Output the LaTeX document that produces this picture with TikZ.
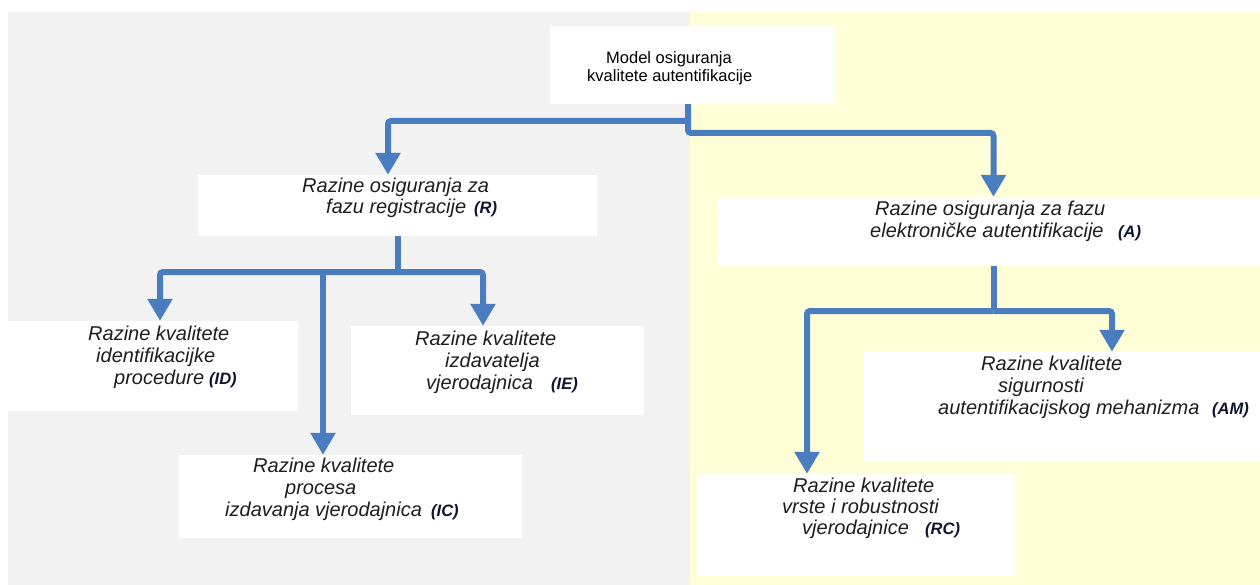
\documentclass[tikz,border=0pt]{standalone}
\usepackage{fontspec}
\setmainfont{Liberation Sans}
\usetikzlibrary{arrows.meta}
\definecolor{bggray}{HTML}{F2F2F2}
\definecolor{bgyellow}{HTML}{FFFFD7}
\definecolor{conncol}{HTML}{4A7CC0}
\definecolor{txtcol}{HTML}{1E1E1E}
\definecolor{labcol}{HTML}{10152E}
\begin{document}
\begin{tikzpicture}[x=1pt,y=-1pt,
  box/.style={fill=white, draw=none, inner sep=0pt, anchor=center},
  ln/.style={anchor=base west, inner sep=0pt, text=txtcol, font=\fontsize{20}{22}\selectfont\itshape},
  lab/.style={anchor=base west, inner sep=0pt, text=labcol, font=\fontsize{16.5}{18}\selectfont\bfseries\itshape},
  tl/.style={anchor=base west, inner sep=0pt, text=black, font=\fontsize{16.5}{18}\selectfont},
  wire/.style={draw=conncol, line width=6pt, rounded corners=3pt},
  arr/.style={wire, -{Triangle[width=24pt,length=22pt]}}
]
\useasboundingbox (0,0) rectangle (1260,585);
\fill[bggray] (8,12) rectangle (690,585);
\fill[bgyellow] (690,12) rectangle (1260,585);

% boxes
\node[box, minimum width=285pt, minimum height=78pt] (top) at (692.5,65) {};
\node[box, minimum width=399pt, minimum height=61pt] (R) at (397.5,205.5) {};
\node[box, minimum width=553pt, minimum height=69pt] (A) at (993.5,231.5) {};
\node[box, minimum width=290pt, minimum height=90pt] (ID) at (153,366) {};
\node[box, minimum width=293pt, minimum height=89pt] (IE) at (497.5,370.5) {};
\node[box, minimum width=343pt, minimum height=83pt] (IC) at (350.5,496.5) {};
\node[box, minimum width=407pt, minimum height=109pt] (AM) at (1066.5,406.5) {};
\node[box, minimum width=318pt, minimum height=102pt] (RC) at (856,525) {};

% helper coordinates
\coordinate (hR) at (0,121);
\coordinate (hA) at (0,133);
\coordinate (hRb) at (0,272);
\coordinate (hAb) at (0,311);
\coordinate (tstub) at ([xshift=-4.5pt]top.south);
\coordinate (rtip) at ([xshift=-9.5pt]R.north);
\coordinate (rstub) at ([xshift=0.5pt]R.south);
\coordinate (astub) at (A.south);
\coordinate (idtip) at ([xshift=7pt]ID.north);
\coordinate (ietip) at ([xshift=-14.5pt]IE.north);
\coordinate (ictip) at ([xshift=-27.5pt]IC.north);
\coordinate (amtip) at ([xshift=45.5pt]AM.north);
\coordinate (rctip) at ([xshift=-49pt]RC.north);

% connectors
\draw[arr] (tstub) |- (hA -| A.north) -- (A.north);
\draw[arr] (tstub |- hR) -| (rtip);
\draw[wire] (rstub) -- (rstub |- hRb);
\draw[arr] (rstub |- hRb) -| (idtip);
\draw[arr] (rstub |- hRb) -| (ietip);
\draw[arr] (ictip |- hRb) -- (ictip);
\draw[wire] (astub) -- (astub |- hAb);
\draw[arr] (astub |- hAb) -| (rctip);
\draw[arr] (astub |- hAb) -| (amtip);

% texts
\node[tl] (t1) at (606,64) {Model osiguranja};
\node[tl] (t2) at (587,82) {kvalitete autentifikacije};

\node[ln] (r1) at (302,193) {Razine osiguranja za};
\node[ln] (r2) at (326,214) {fazu registracije};
\node[lab] (r3) at (474,214) {(R)};

\node[ln] (a1) at (875,216) {Razine osiguranja za fazu};
\node[ln] (a2) at (870,238) {elektroničke autentifikacije};
\node[lab] (a3) at (1118,238) {(A)};

\node[ln] (id1) at (88,340) {Razine kvalitete};
\node[ln] (id2) at (96,362) {identifikacijke};
\node[ln] (id3) at (114,384) {procedure};
\node[lab] (id4) at (209,384) {(ID)};

\node[ln] (ie1) at (415,345) {Razine kvalitete};
\node[ln] (ie2) at (445,367) {izdavatelja};
\node[ln] (ie3) at (426,389) {vjerodajnica};
\node[lab] (ie4) at (551,389) {(IE)};

\node[ln] (ic1) at (253,472) {Razine kvalitete};
\node[ln] (ic2) at (285,494) {procesa};
\node[ln] (ic3) at (225,516) {izdavanja vjerodajnica};
\node[lab] (ic4) at (431,516) {(IC)};

\node[ln] (am1) at (981,370) {Razine kvalitete};
\node[ln] (am2) at (998,392) {sigurnosti};
\node[ln] (am3) at (938,414) {autentifikacijskog mehanizma};
\node[lab] (am4) at (1212,414) {(AM)};

\node[ln] (rc1) at (793,492) {Razine kvalitete};
\node[ln] (rc2) at (782,513) {vrste i robustnosti};
\node[ln] (rc3) at (802,534) {vjerodajnice};
\node[lab] (rc4) at (925,534) {(RC)};
\end{tikzpicture}
\end{document}
